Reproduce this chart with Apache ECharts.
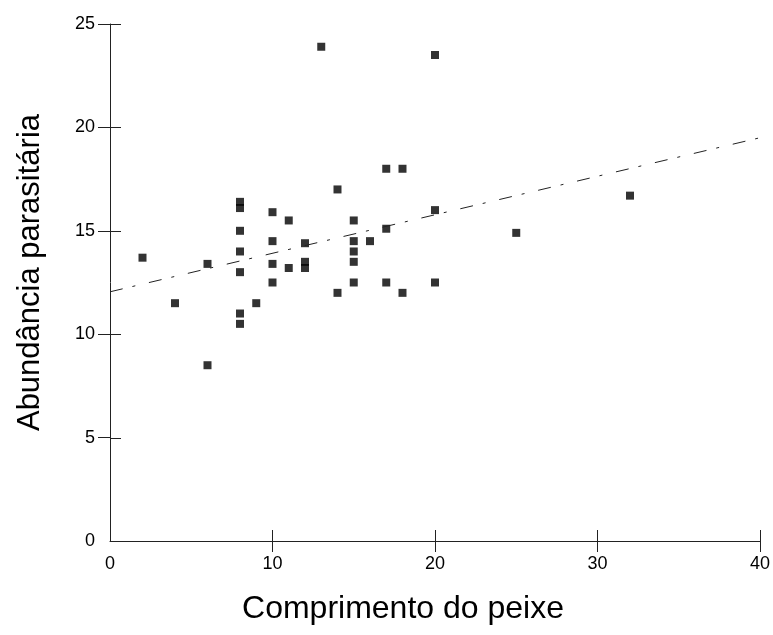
<!DOCTYPE html>
<html lang="pt">
<head>
    <meta charset="UTF-8">
    <title>Abundância parasitária x Comprimento do peixe</title>
    <script src="https://cdn.jsdelivr.net/npm/echarts@6.0.0/dist/echarts.min.js"></script>
    <style>
        html, body { margin: 0; padding: 0; background: #fff; }
    </style>
</head>
<body>
    <div id="chart" style="width: 773px; height: 635px;"></div>

    <script>
        // comprimento (x) e abundância (y)
        var comprimento = [2, 4, 6, 6, 8, 8, 8, 8, 8, 8, 8, 9, 10, 10, 10, 10, 11, 11, 12, 12,
                           12, 13, 14, 14, 15, 15, 15, 15, 15, 16, 17, 17, 17, 18, 18, 20, 20, 20, 25, 32];
        var abundancia = [13.7, 11.5, 13.4, 8.5, 16.4, 16.1, 15, 14, 13, 11, 10.5, 11.5, 15.9, 14.5, 13.4, 12.5, 15.5, 13.2, 14.4, 13.5,
                          13.2, 23.9, 17, 12, 15.5, 14.5, 14, 13.5, 12.5, 14.5, 18, 15.1, 12.5, 18, 12, 23.5, 16, 12.5, 14.9, 16.7];

        // reta de tendência (extremos)
        var retaX = [0, 40];
        var retaY = [12.05, 19.5];

        var ticksX = [10, 20, 30, 40];
        var ticksY = [5, 10, 15, 20, 25];

        var pontos = comprimento.map(function (c, i) { return [c, abundancia[i]]; });
        var reta = retaX.map(function (x, i) { return [x, retaY[i]]; });

        var fonte = '"Liberation Sans", Arial, sans-serif';
        var corEixo = '#222';
        var tamTick = 11;

        // metade interna dos ticks (os ticks do original cruzam o eixo)
        function tickDentroX(params, api) {
            var p = api.coord([api.value(0), 0]);
            var x = Math.round(p[0]) + 0.5;
            return {
                type: 'line',
                shape: { x1: x, y1: p[1], x2: x, y2: p[1] - tamTick },
                style: { stroke: corEixo, lineWidth: 1 }
            };
        }
        function tickDentroY(params, api) {
            var p = api.coord([0, api.value(1)]);
            var y = Math.round(p[1]) + 0.5;
            return {
                type: 'line',
                shape: { x1: p[0], y1: y, x2: p[0] + tamTick, y2: y },
                style: { stroke: corEixo, lineWidth: 1 }
            };
        }

        var chart = echarts.init(document.getElementById('chart'));

        chart.setOption({
            animation: false,
            backgroundColor: '#fff',
            grid: { left: 110, right: 13, top: 24, bottom: 94 },
            xAxis: {
                type: 'value',
                min: 0,
                max: 40,
                interval: 10,
                name: 'Comprimento do peixe',
                nameLocation: 'middle',
                nameGap: 52,
                nameTextStyle: { fontFamily: fonte, fontSize: 32, color: '#000', padding: [0, 64, 0, 0] },
                axisLine: { onZero: false, lineStyle: { color: corEixo, width: 1 } },
                axisTick: { length: tamTick, customValues: ticksX, lineStyle: { color: corEixo } },
                axisLabel: { fontFamily: fonte, fontSize: 18, color: '#000', margin: 14 },
                splitLine: { show: false }
            },
            yAxis: {
                type: 'value',
                min: 0,
                max: 25,
                interval: 5,
                name: 'Abundância parasitária',
                nameLocation: 'middle',
                nameGap: 64,
                nameRotate: 90,
                nameTextStyle: { fontFamily: fonte, fontSize: 31, color: '#000', padding: [0, 0, 0, 20] },
                axisLine: { onZero: false, lineStyle: { color: corEixo, width: 1 } },
                axisTick: { length: 12, customValues: ticksY, lineStyle: { color: corEixo } },
                axisLabel: { fontFamily: fonte, fontSize: 18, color: '#000', margin: 15 },
                splitLine: { show: false }
            },
            series: [{
                type: 'scatter',
                data: pontos,
                symbol: 'rect',
                symbolSize: 8,
                itemStyle: { color: '#000' }
            }, {
                type: 'line',
                data: reta,
                symbol: 'none',
                lineStyle: { color: '#222', width: 1, type: [13, 10, 3, 14] }
            }, {
                type: 'custom',
                data: ticksX.map(function (v) { return [v, 0]; }),
                renderItem: tickDentroX,
                silent: true,
                clip: false
            }, {
                type: 'custom',
                data: ticksY.map(function (v) { return [0, v]; }),
                renderItem: tickDentroY,
                silent: true,
                clip: false
            }]
        });
    </script>
</body>
</html>
